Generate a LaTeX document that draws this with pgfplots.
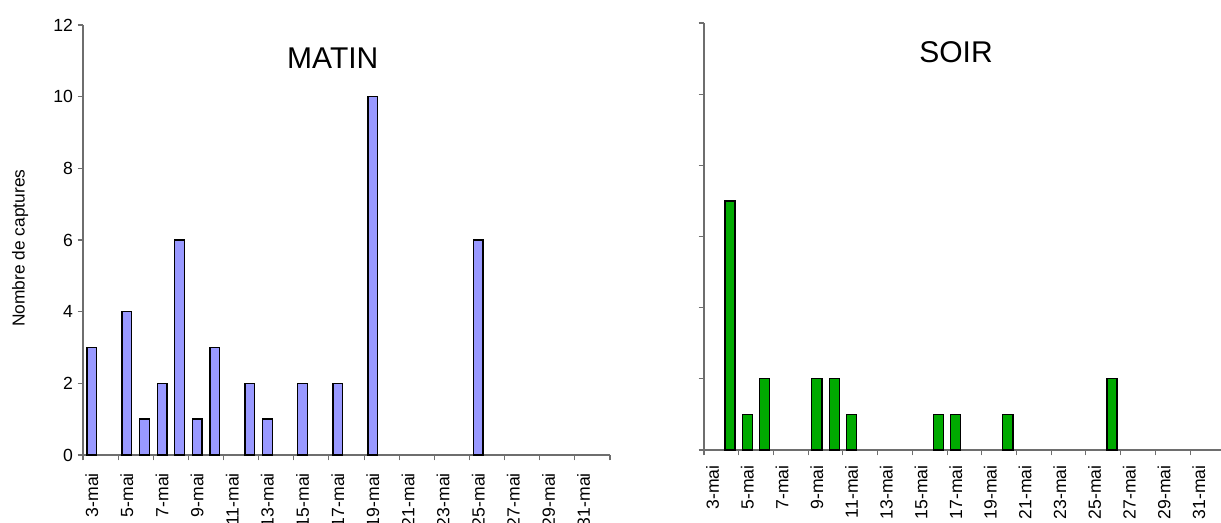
\documentclass[border=0pt]{standalone}
\usepackage{fontspec}
\setmainfont{Liberation Sans}
\usepackage{pgfplots}
\pgfplotsset{compat=1.18}
\definecolor{matin}{RGB}{153,153,255}
\definecolor{soir}{RGB}{0,170,0}
\definecolor{axgray}{RGB}{110,110,110}
\pgfplotsset{
  excel/.style={
    scale only axis,
    axis lines*=left,
    xmin=2.5, xmax=32.5, ymin=0, ymax=12,
    ytick={0,2,...,12},
    xtick={2.5,4.5,...,32.5},
    xticklabels={},
    extra x ticks={3,5,...,31},
    extra x tick labels={3-mai,5-mai,7-mai,9-mai,11-mai,13-mai,15-mai,17-mai,19-mai,21-mai,23-mai,25-mai,27-mai,29-mai,31-mai},
    extra x tick style={major tick length=0pt, grid=none},
    tick align=outside,
    major tick length=4pt,
    axis line style={draw=axgray, line width=0.8pt},
    tick style={draw=axgray, line width=0.8pt},
    tick label style={font=\fontsize{13.2}{15}\selectfont},
    xticklabel style={rotate=90, anchor=east, inner sep=0pt},
    /pgf/number format/assume math mode=true,
    ybar, bar width=0.55,
    clip=false,
  }
}
\begin{document}
\begin{tikzpicture}
\begin{axis}[excel,
  at={(62.25pt,51pt)}, anchor=south west,
  width=395.25pt, height=322.5pt,
  xticklabel shift=13.5pt,
  title={MATIN},
  title style={at={(axis description cs:0.474,0.905)}, anchor=center, font=\fontsize{22.5}{27}\selectfont},
  ylabel={Nombre de captures},
  ylabel style={at={(axis description cs:-0.1195,0.481)}, anchor=center, font=\fontsize{13}{15}\selectfont},
]
\addplot[fill=matin, draw=black, line width=1pt] coordinates {
(3,3) (5,4) (6,1) (7,2) (8,6) (9,1) (10,3) (12,2) (13,1) (15,2) (17,2) (19,10) (25,6)};
\end{axis}
\begin{axis}[excel,
  at={(528pt,54.75pt)}, anchor=south west,
  width=390.6pt, height=320.25pt,
  xticklabel shift=11.5pt,
  yticklabels={},
  bar width=0.58,
  title={SOIR},
  title style={at={(axis description cs:0.484,0.912)}, anchor=center, font=\fontsize{22.5}{27}\selectfont},
]
\addplot[fill=soir, draw=black, line width=1pt] coordinates {
(4,7) (5,1) (6,2) (9,2) (10,2) (11,1) (16,1) (17,1) (20,1) (26,2)};
\end{axis}
\pgfresetboundingbox
\path[use as bounding box] (0,0) rectangle (915.75pt,392.25pt);
\end{tikzpicture}
\end{document}
